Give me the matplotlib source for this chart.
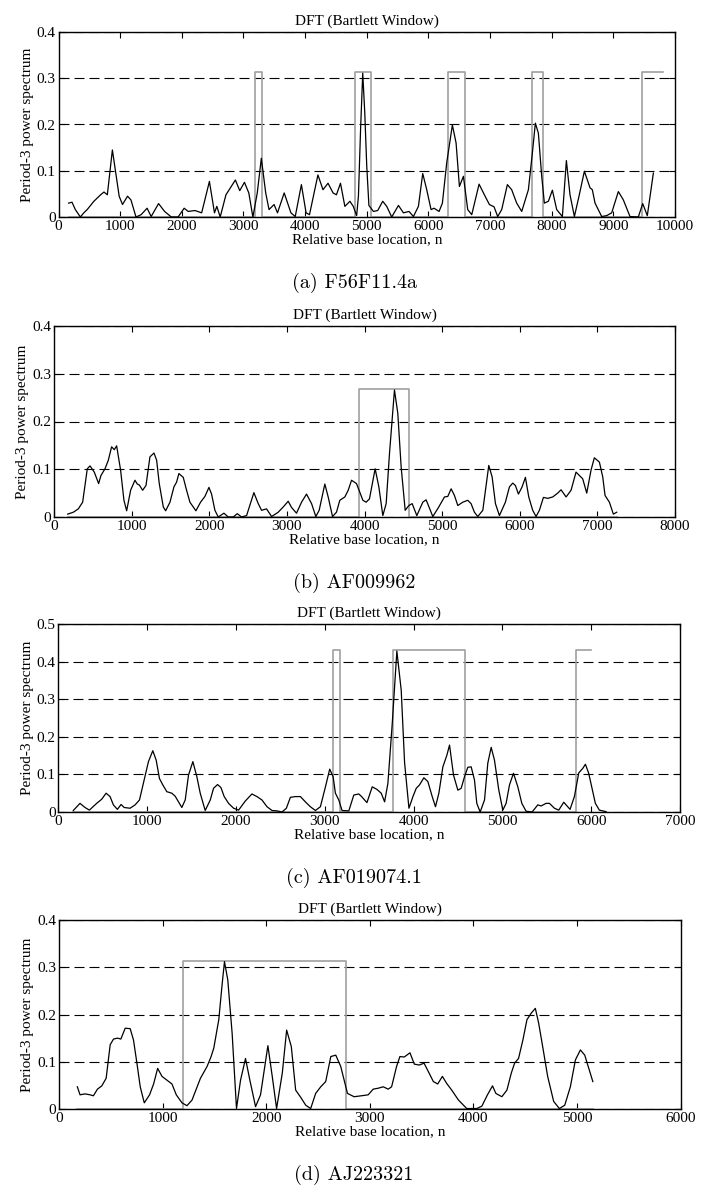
import matplotlib
matplotlib.use("Agg")
import matplotlib.pyplot as plt
from matplotlib.ticker import FormatStrFormatter

# ---- (a) F56F11.4a ----
a_x = [164, 219, 273, 355, 410, 465, 574, 683, 738, 792, 874, 929, 984, 1038, 1120, 1175, 1257, 1340,
       1437, 1503, 1623, 1721, 1830, 1940, 2038, 2104, 2213, 2322, 2448, 2530, 2568, 2623, 2716, 2869,
       2940, 3016, 3087, 3153, 3224, 3290, 3361, 3415, 3497, 3552, 3661, 3770, 3840, 3940, 4016, 4071,
       4208, 4290, 4372, 4454, 4508, 4574, 4645, 4727, 4781, 4836, 4865, 4900, 4935, 4968, 5000, 5035,
       5108, 5178, 5259, 5324, 5405, 5514, 5595, 5686, 5757, 5838, 5908, 5973, 6043, 6092, 6173, 6227,
       6297, 6389, 6449, 6503, 6568, 6638, 6703, 6822, 6908, 6989, 7065, 7124, 7189, 7281, 7351, 7432,
       7514, 7622, 7686, 7735, 7784, 7838, 7881, 7946, 8011, 8081, 8173, 8238, 8297, 8368, 8443, 8530,
       8622, 8659, 8703, 8811, 8892, 8973, 9081, 9162, 9270, 9405, 9476, 9514, 9551, 9649]
a_y = [0.030, 0.032, 0.016, 0.0, 0.009, 0.016, 0.034, 0.048, 0.054, 0.048, 0.145, 0.095, 0.045, 0.027,
       0.045, 0.037, 0.0, 0.005, 0.019, 0.001, 0.029, 0.012, 0.0, 0.0, 0.019, 0.012, 0.014, 0.009, 0.077,
       0.009, 0.023, 0.0, 0.048, 0.080, 0.057, 0.075, 0.052, 0.0, 0.052, 0.127, 0.052, 0.016, 0.027,
       0.009, 0.052, 0.009, 0.001, 0.070, 0.009, 0.005, 0.091, 0.059, 0.073, 0.052, 0.048, 0.073, 0.023,
       0.034, 0.023, 0.003, 0.045, 0.190, 0.311, 0.225, 0.110, 0.025, 0.012, 0.014, 0.034, 0.023, 0.0,
       0.025, 0.009, 0.012, 0.001, 0.023, 0.094, 0.059, 0.016, 0.019, 0.012, 0.030, 0.117, 0.199, 0.160,
       0.066, 0.088, 0.016, 0.005, 0.071, 0.048, 0.027, 0.022, 0.001, 0.016, 0.070, 0.059, 0.030, 0.012,
       0.059, 0.138, 0.203, 0.181, 0.088, 0.030, 0.034, 0.058, 0.016, 0.001, 0.122, 0.048, 0.001, 0.045,
       0.099, 0.063, 0.059, 0.030, 0.001, 0.003, 0.009, 0.055, 0.037, 0.001, 0.0, 0.029, 0.016, 0.003,
       0.095]
a_exons = [(3180, 3295), (4809, 5070), (6324, 6595), (7676, 7865), (9470, 9811)]
a_box = 0.313
a_span = (164, 9811)

# ---- (b) AF009962 ----
b_x = [176, 249, 313, 369, 429, 464, 519, 575, 605, 657, 700, 742, 777, 807, 858, 901, 936, 987, 1043,
       1073, 1099, 1142, 1185, 1236, 1288, 1322, 1356, 1408, 1438, 1494, 1545, 1579, 1609, 1665, 1708,
       1751, 1828, 1888, 1944, 1996, 2030, 2073, 2116, 2189, 2245, 2309, 2361, 2416, 2481, 2575, 2631,
       2674, 2738, 2803, 2888, 2953, 3017, 3060, 3124, 3189, 3253, 3318, 3373, 3416, 3489, 3532, 3588,
       3639, 3682, 3747, 3790, 3833, 3897, 3979, 4021, 4064, 4137, 4185, 4236, 4279, 4322, 4386, 4429,
       4472, 4524, 4571, 4614, 4674, 4751, 4794, 4880, 4957, 5030, 5073, 5116, 5159, 5202, 5266, 5330,
       5373, 5416, 5459, 5524, 5567, 5601, 5644, 5687, 5738, 5815, 5867, 5910, 5944, 5983, 6030, 6073,
       6116, 6167, 6210, 6253, 6305, 6361, 6425, 6489, 6532, 6597, 6661, 6725, 6811, 6863, 6918, 6961,
       7026, 7069, 7099, 7155, 7206, 7249]
b_y = [0.006, 0.010, 0.017, 0.031, 0.101, 0.107, 0.094, 0.070, 0.087, 0.101, 0.119, 0.147, 0.141, 0.149,
       0.098, 0.035, 0.013, 0.056, 0.077, 0.069, 0.067, 0.056, 0.066, 0.126, 0.134, 0.119, 0.070, 0.021,
       0.013, 0.031, 0.063, 0.073, 0.091, 0.083, 0.056, 0.031, 0.013, 0.031, 0.043, 0.062, 0.048, 0.014,
       0.0, 0.008, 0.0, 0.0, 0.007, 0.0, 0.003, 0.051, 0.028, 0.014, 0.017, 0.001, 0.010, 0.021, 0.033,
       0.020, 0.008, 0.031, 0.048, 0.028, 0.001, 0.014, 0.069, 0.042, 0.001, 0.010, 0.035, 0.042, 0.056,
       0.077, 0.070, 0.035, 0.031, 0.038, 0.101, 0.063, 0.003, 0.028, 0.133, 0.266, 0.217, 0.105, 0.014,
       0.024, 0.028, 0.003, 0.031, 0.036, 0.001, 0.021, 0.042, 0.043, 0.059, 0.045, 0.024, 0.031, 0.035,
       0.028, 0.010, 0.001, 0.014, 0.066, 0.108, 0.084, 0.028, 0.003, 0.031, 0.063, 0.071, 0.066, 0.048,
       0.063, 0.083, 0.042, 0.014, 0.001, 0.014, 0.041, 0.039, 0.042, 0.050, 0.057, 0.042, 0.056, 0.094,
       0.080, 0.050, 0.098, 0.124, 0.115, 0.084, 0.045, 0.031, 0.006, 0.010]
b_exons = [(3923, 4571)]
b_box = 0.268
b_span = (176, 7249)

# ---- (c) AF019074.1 ----
c_x = [169, 244, 301, 350, 432, 489, 538, 583, 620, 665, 707, 741, 808, 865, 914, 966, 1015, 1064, 1102,
       1139, 1177, 1222, 1278, 1316, 1353, 1391, 1429, 1466, 1515, 1560, 1598, 1654, 1711, 1748, 1793,
       1831, 1868, 1917, 1974, 2030, 2105, 2180, 2237, 2293, 2350, 2406, 2462, 2519, 2568, 2613, 2669,
       2726, 2782, 2838, 2895, 2951, 3008, 3056, 3094, 3120, 3158, 3195, 3271, 3327, 3383, 3411, 3475,
       3535, 3588, 3636, 3674, 3711, 3760, 3812, 3861, 3899, 3948, 3993, 4030, 4067, 4116, 4161, 4210,
       4247, 4285, 4330, 4375, 4405, 4450, 4499, 4536, 4574, 4611, 4649, 4686, 4712, 4750, 4799, 4836,
       4874, 4911, 4960, 5005, 5042, 5080, 5125, 5174, 5219, 5267, 5335, 5399, 5436, 5492, 5530, 5586,
       5635, 5691, 5729, 5762, 5811, 5860, 5905, 5935, 5972, 6010, 6047, 6092, 6167]
c_y = [0.004, 0.023, 0.012, 0.005, 0.023, 0.034, 0.050, 0.041, 0.019, 0.007, 0.020, 0.012, 0.010, 0.019,
       0.032, 0.085, 0.134, 0.163, 0.138, 0.089, 0.072, 0.054, 0.050, 0.042, 0.027, 0.012, 0.032, 0.098,
       0.134, 0.094, 0.050, 0.004, 0.032, 0.063, 0.073, 0.065, 0.041, 0.023, 0.010, 0.005, 0.029, 0.048,
       0.041, 0.032, 0.014, 0.004, 0.003, 0.0, 0.010, 0.039, 0.041, 0.041, 0.027, 0.014, 0.004, 0.014,
       0.067, 0.114, 0.094, 0.050, 0.032, 0.004, 0.003, 0.045, 0.048, 0.042, 0.025, 0.067, 0.060, 0.050,
       0.027, 0.076, 0.235, 0.428, 0.324, 0.131, 0.010, 0.041, 0.063, 0.072, 0.091, 0.081, 0.041, 0.014,
       0.050, 0.120, 0.151, 0.178, 0.098, 0.058, 0.063, 0.094, 0.119, 0.120, 0.085, 0.023, 0.0, 0.032,
       0.130, 0.172, 0.138, 0.058, 0.005, 0.023, 0.072, 0.103, 0.067, 0.023, 0.002, 0.0, 0.019, 0.016,
       0.023, 0.023, 0.010, 0.005, 0.026, 0.016, 0.007, 0.041, 0.104, 0.116, 0.127, 0.103, 0.063, 0.023,
       0.005, 0.001]
c_exons = [(3094, 3177), (3768, 4581), (5834, 6002)]
c_box = 0.431
c_span = (169, 6002)

# ---- (d) AJ223321 ----
d_x = [177, 203, 252, 300, 332, 371, 413, 455, 494, 526, 565, 597, 639, 687, 719, 752, 784, 823, 874,
       913, 952, 994, 1042, 1090, 1132, 1187, 1235, 1284, 1365, 1429, 1468, 1494, 1542, 1574, 1597, 1629,
       1671, 1713, 1752, 1800, 1842, 1897, 1945, 2016, 2058, 2100, 2155, 2197, 2242, 2284, 2332, 2381,
       2429, 2477, 2526, 2574, 2623, 2671, 2719, 2752, 2784, 2848, 2919, 2984, 3032, 3081, 3129, 3177,
       3210, 3258, 3290, 3332, 3387, 3429, 3477, 3523, 3565, 3613, 3655, 3700, 3742, 3790, 3855, 3935,
       4032, 4081, 4135, 4184, 4216, 4274, 4323, 4365, 4397, 4435, 4477, 4516, 4558, 4597, 4629, 4668,
       4716, 4774, 4829, 4881, 4935, 4984, 5032, 5074, 5113, 5152]
d_y = [0.047, 0.030, 0.032, 0.030, 0.028, 0.042, 0.049, 0.065, 0.136, 0.148, 0.150, 0.148, 0.171, 0.170,
       0.146, 0.097, 0.047, 0.013, 0.030, 0.053, 0.086, 0.069, 0.061, 0.053, 0.030, 0.013, 0.007, 0.019,
       0.065, 0.090, 0.111, 0.129, 0.189, 0.263, 0.312, 0.273, 0.160, 0.001, 0.061, 0.107, 0.061, 0.005,
       0.030, 0.134, 0.069, 0.001, 0.076, 0.167, 0.132, 0.040, 0.025, 0.008, 0.001, 0.033, 0.047, 0.058,
       0.111, 0.114, 0.090, 0.061, 0.033, 0.026, 0.028, 0.030, 0.042, 0.044, 0.047, 0.042, 0.047, 0.090,
       0.111, 0.110, 0.119, 0.095, 0.093, 0.097, 0.079, 0.058, 0.053, 0.069, 0.054, 0.040, 0.019, 0.001,
       0.001, 0.006, 0.030, 0.049, 0.033, 0.026, 0.040, 0.076, 0.097, 0.107, 0.146, 0.189, 0.203, 0.213,
       0.182, 0.132, 0.069, 0.016, 0.001, 0.008, 0.047, 0.104, 0.125, 0.114, 0.086, 0.058]
d_exons = [(1197, 2768)]
d_box = 0.314
d_span = (177, 5152)

captions = ["(a) F56F11.4a", "(b) AF009962", "(c) AF019074.1", "(d) AJ223321"]
xmaxes = [10000, 8000, 7000, 6000]
ymaxes = [0.4, 0.4, 0.5, 0.4]

# axes boxes in pixels: left, right, top, bottom
boxes = [(58.5, 675, 32, 217), (54, 675, 326, 517), (58.3, 680, 624, 812), (59, 680.7, 920, 1109)]

W, H = 715, 1189
fig = plt.figure(figsize=(W / 100, H / 100), dpi=100)
serif = "Liberation Serif"


def exon_steps(exons, h, span):
    xs = [span[0]]
    ys = [0]
    for s, e in exons:
        xs += [s, s]
        ys += [0, h]
        if e >= span[1]:
            xs.append(span[1])
            ys.append(h)
            return xs, ys
        xs += [e, e]
        ys += [h, 0]
    xs.append(span[1])
    ys.append(0)
    return xs, ys


panels = [(a_x, a_y, a_exons, a_box, a_span), (b_x, b_y, b_exons, b_box, b_span),
          (c_x, c_y, c_exons, c_box, c_span), (d_x, d_y, d_exons, d_box, d_span)]

for i in range(4):
    px, py, ex, hb, span = panels[i]
    l, r, t, b = boxes[i]
    ax = fig.add_axes([l / W, 1 - b / H, (r - l) / W, (b - t) / H])
    sx, sy = exon_steps(ex, hb, span)
    ax.plot(sx, sy, color="#a0a0a0", lw=1.2)
    ax.plot(px, py, color="black", lw=0.9)
    ax.set_xlim(0, xmaxes[i])
    ax.set_ylim(0, ymaxes[i])
    ax.set_xticks(range(0, xmaxes[i] + 1, 1000))
    ax.set_yticks([k / 10 for k in range(int(round(ymaxes[i] * 10)) + 1)])
    ax.yaxis.set_major_formatter(FormatStrFormatter("%g"))
    ax.xaxis.set_major_formatter(FormatStrFormatter("%g"))
    ax.grid(axis="y", color="black", lw=0.8, linestyle=(0, (9, 4.5)))
    ax.tick_params(direction="in", top=True, right=True, length=4, width=0.8,
                   labelsize=11, labelfontfamily=serif, pad=2)
    for sp in ax.spines.values():
        sp.set_linewidth(1.0)
    ax.set_title("DFT (Bartlett Window)", fontsize=11, family=serif, pad=5)
    ax.set_xlabel("Relative base location, n", fontsize=11, family=serif, labelpad=0)
    ax.set_ylabel("Period-3 power spectrum", fontsize=11, family=serif, labelpad=2)
    fig.text(354 / W, 1 - (b + 66) / H, captions[i], fontsize=14.5, family="cmr10",
             ha="center", va="center")

fig.savefig("out.png", dpi=100)
